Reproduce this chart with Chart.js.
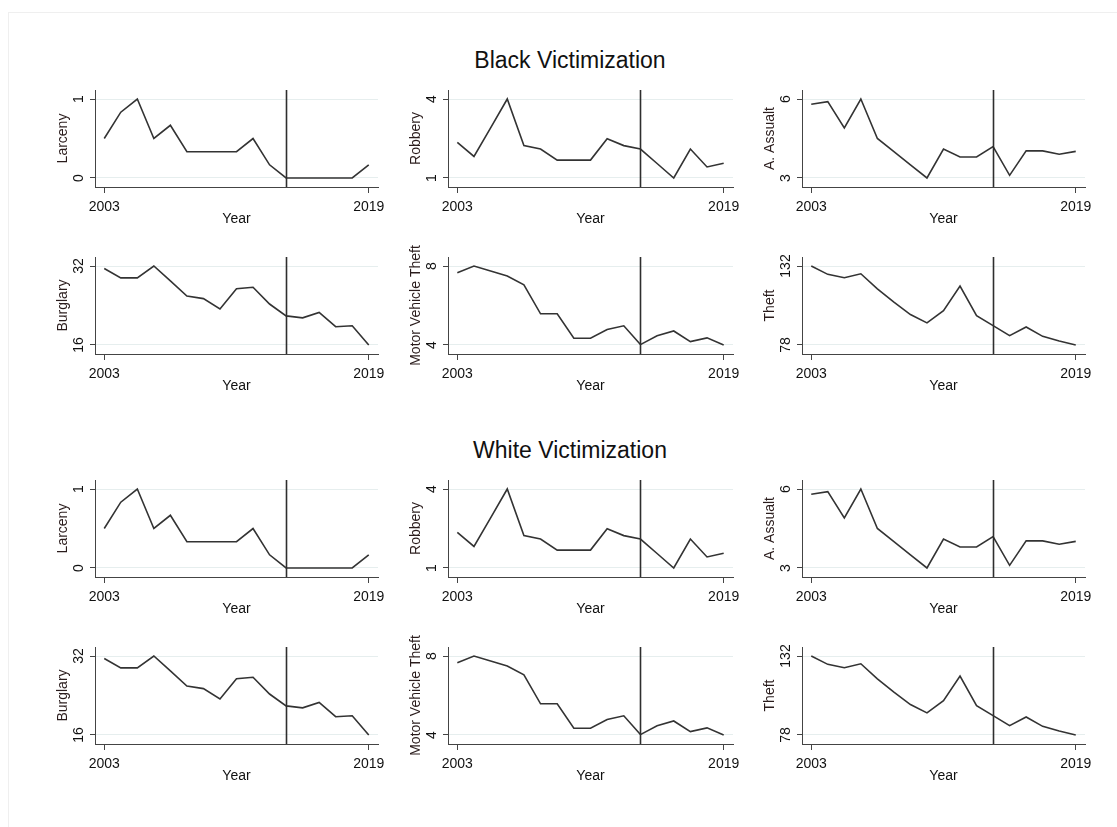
<!DOCTYPE html>
<html>
<head>
<meta charset="utf-8">
<title>Black and White Victimization, 2003–2019</title>
<script src="https://cdn.jsdelivr.net/npm/chart.js@4.4.1/dist/chart.umd.min.js"></script>
<style>
  html, body { margin: 0; padding: 0; background: #fff; }
  #fig {
    position: relative; width: 1117px; height: 827px; overflow: hidden;
    background: #fff; font-family: "Liberation Sans", Arial, sans-serif;
  }
  .frame { position: absolute; left: 8px; top: 12px; width: 1120px; height: 830px; border: 1px solid #efefef; }
  .group-title {
    position: absolute; left: 0; width: 1140px; text-align: center;
    font-size: 23px; line-height: 28px; color: #111;
  }
  canvas { position: absolute; }
</style>
</head>
<body>
<div id="fig">
  <div class="frame"></div>
  <div class="group-title" style="top:46px">Black Victimization</div>
  <div class="group-title" style="top:436px">White Victimization</div>
</div>
<script>
// ---- data -------------------------------------------------------------
const years = [2003, 2004, 2005, 2006, 2007, 2008, 2009, 2010, 2011,
               2012, 2013, 2014, 2015, 2016, 2017, 2018, 2019];
const yearTicks = [2003, 2019];
const policyYear = 2014;

const panelNames = ['Larceny', 'Robbery', 'A. Assualt',
                    'Burglary', 'Motor Vehicle Theft', 'Theft'];

// y-axis tick values per panel
const larcenyTicks  = [0, 1];
const robberyTicks  = [1, 4];
const assaultTicks  = [3, 6];
const burglaryTicks = [16, 32];
const mvTheftTicks  = [4, 8];
const theftTicks    = [78, 132];

// Black victimization
const blackLarceny  = [0.5, 0.833, 1, 0.5, 0.667, 0.333, 0.333, 0.333, 0.333, 0.5, 0.167, 0, 0, 0, 0, 0, 0.167];
const blackRobbery  = [2.35, 1.82, 2.9, 4, 2.23, 2.1, 1.68, 1.68, 1.68, 2.49, 2.23, 2.1, 1.55, 1, 2.1, 1.42, 1.56];
const blackAssault  = [5.8, 5.9, 4.9, 6, 4.5, 4.0, 3.5, 3.0, 4.1, 3.8, 3.8, 4.19, 3.1, 4.03, 4.03, 3.9, 4.01];
const blackBurglary = [31.5, 29.6, 29.6, 32, 29, 25.9, 25.4, 23.3, 27.4, 27.7, 24.3, 21.9, 21.5, 22.6, 19.7, 19.9, 16];
const blackMvTheft  = [7.66, 8, 7.75, 7.49, 7.05, 5.58, 5.58, 4.34, 4.34, 4.78, 4.97, 4.02, 4.47, 4.71, 4.17, 4.36, 4];
const blackTheft    = [132, 126.3, 124, 126.7, 116.4, 107.3, 98.8, 93.1, 101.5, 118.3, 98.1, 91.2, 84.4, 90.3, 83.9, 80.7, 78];

// White victimization
const whiteLarceny  = [0.5, 0.833, 1, 0.5, 0.667, 0.333, 0.333, 0.333, 0.333, 0.5, 0.167, 0, 0, 0, 0, 0, 0.167];
const whiteRobbery  = [2.35, 1.82, 2.9, 4, 2.23, 2.1, 1.68, 1.68, 1.68, 2.49, 2.23, 2.1, 1.55, 1, 2.1, 1.42, 1.56];
const whiteAssault  = [5.8, 5.9, 4.9, 6, 4.5, 4.0, 3.5, 3.0, 4.1, 3.8, 3.8, 4.19, 3.1, 4.03, 4.03, 3.9, 4.01];
const whiteBurglary = [31.5, 29.6, 29.6, 32, 29, 25.9, 25.4, 23.3, 27.4, 27.7, 24.3, 21.9, 21.5, 22.6, 19.7, 19.9, 16];
const whiteMvTheft  = [7.66, 8, 7.75, 7.49, 7.05, 5.58, 5.58, 4.34, 4.34, 4.78, 4.97, 4.02, 4.47, 4.71, 4.17, 4.36, 4];
const whiteTheft    = [132, 126.3, 124, 126.7, 116.4, 107.3, 98.8, 93.1, 101.5, 118.3, 98.1, 91.2, 84.4, 90.3, 83.9, 80.7, 78];

const panelTicks = [larcenyTicks, robberyTicks, assaultTicks, burglaryTicks, mvTheftTicks, theftTicks];
const blackSeries = [blackLarceny, blackRobbery, blackAssault, blackBurglary, blackMvTheft, blackTheft];
const whiteSeries = [whiteLarceny, whiteRobbery, whiteAssault, whiteBurglary, whiteMvTheft, whiteTheft];

// ---- layout -----------------------------------------------------------
const FONT = '"Liberation Sans", Arial, sans-serif';
Chart.defaults.font.family = FONT;
const colAxisX = [95, 448, 802];     // page x of each column's y axis
const colPlotW = [283, 285, 283];
const rowPlotTop = [90, 257, 480, 647];
const PLOT_H = 97;
const PAD_L = 50, PAD_T = 20, PAD_R = 22, PAD_B = 42;
const X_PAD_YEARS = 0.56;
const Y_PAD_FRAC = 0.114;

// vertical reference line at the policy year
const policyLine = {
  id: 'policyLine',
  afterDatasetsDraw(chart) {
    const { ctx, chartArea } = chart;
    const x = Math.round(chart.scales.x.getPixelForValue(policyYear)) + 0.5;
    ctx.save();
    ctx.strokeStyle = '#2e2e2e';
    ctx.lineWidth = 1.6;
    ctx.beginPath();
    ctx.moveTo(x, chartArea.top);
    ctx.lineTo(x, chartArea.bottom);
    ctx.stroke();
    ctx.restore();
  }
};

// rotated y tick labels and y-axis title
const yAxisText = {
  id: 'yAxisText',
  afterDraw(chart, args, opts) {
    const { ctx, chartArea } = chart;
    const ys = chart.scales.y;
    ctx.save();
    ctx.font = '14px ' + FONT;
    ctx.textAlign = 'center';
    ctx.textBaseline = 'middle';
    ctx.fillStyle = '#111';
    ys.ticks.forEach(t => {
      const py = ys.getPixelForValue(t.value);
      ctx.save();
      ctx.translate(chartArea.left - 16, py);
      ctx.rotate(-Math.PI / 2);
      ctx.fillText(String(t.value), 0, 0);
      ctx.restore();
    });
    ctx.fillStyle = '#2a1c1c';
    ctx.translate(chartArea.left - 32, (chartArea.top + chartArea.bottom) / 2);
    ctx.rotate(-Math.PI / 2);
    ctx.fillText(opts.title, 0, 0);
    ctx.restore();
  }
};

function makePanel(values, ticks, name, left, top, plotW) {
  const canvas = document.createElement('canvas');
  const w = PAD_L + plotW + PAD_R, h = PAD_T + PLOT_H + PAD_B;
  canvas.width = w; canvas.height = h;
  canvas.style.left = (left - PAD_L) + 'px';
  canvas.style.top = (top - PAD_T) + 'px';
  canvas.style.width = w + 'px'; canvas.style.height = h + 'px';
  document.getElementById('fig').appendChild(canvas);

  const lo = ticks[0], hi = ticks[ticks.length - 1];
  const pad = (hi - lo) * Y_PAD_FRAC;

  new Chart(canvas, {
    type: 'line',
    data: {
      datasets: [{
        data: years.map((yr, i) => ({ x: yr, y: values[i] })),
        borderColor: '#333',
        borderWidth: 1.6,
        pointRadius: 0,
        tension: 0,
        fill: false
      }]
    },
    options: {
      responsive: false,
      animation: false,
      devicePixelRatio: 1,
      layout: { padding: { left: 0, top: PAD_T, right: PAD_R, bottom: 0 } },
      plugins: {
        legend: { display: false },
        tooltip: { enabled: false },
        yAxisText: { title: name }
      },
      scales: {
        x: {
          type: 'linear',
          min: yearTicks[0] - X_PAD_YEARS,
          max: yearTicks[yearTicks.length - 1] + X_PAD_YEARS,
          afterBuildTicks: s => { s.ticks = yearTicks.map(v => ({ value: v })); },
          afterFit: s => { s.height = PAD_B; s.paddingLeft = 0; s.paddingRight = 0; },
          grid: { drawOnChartArea: false, drawTicks: true, tickLength: 6, tickColor: '#444', tickWidth: 1 },
          border: { display: true, color: '#444', width: 1 },
          ticks: {
            autoSkip: false, maxRotation: 0, minRotation: 0, padding: 6,
            color: '#111', font: { size: 14 },
            callback: v => String(v)
          },
          title: {
            display: true, text: 'Year', color: '#111',
            font: { size: 14 }, padding: { top: 0, bottom: 1 }
          }
        },
        y: {
          min: lo - pad,
          max: hi + pad,
          afterBuildTicks: s => { s.ticks = ticks.map(v => ({ value: v })); },
          afterFit: s => { s.width = PAD_L; s.paddingTop = 0; s.paddingBottom = 0; },
          grid: { color: '#e6eeee', lineWidth: 1, drawTicks: true, tickLength: 5, tickColor: '#444', tickWidth: 1 },
          border: { display: true, color: '#444', width: 1 },
          ticks: { display: false }
        }
      }
    },
    plugins: [policyLine, yAxisText]
  });
}

[blackSeries, whiteSeries].forEach((group, g) => {
  group.forEach((vals, k) => {
    const col = k % 3, row = g * 2 + Math.floor(k / 3);
    makePanel(vals, panelTicks[k], panelNames[k], colAxisX[col], rowPlotTop[row], colPlotW[col]);
  });
});
</script>
</body>
</html>
